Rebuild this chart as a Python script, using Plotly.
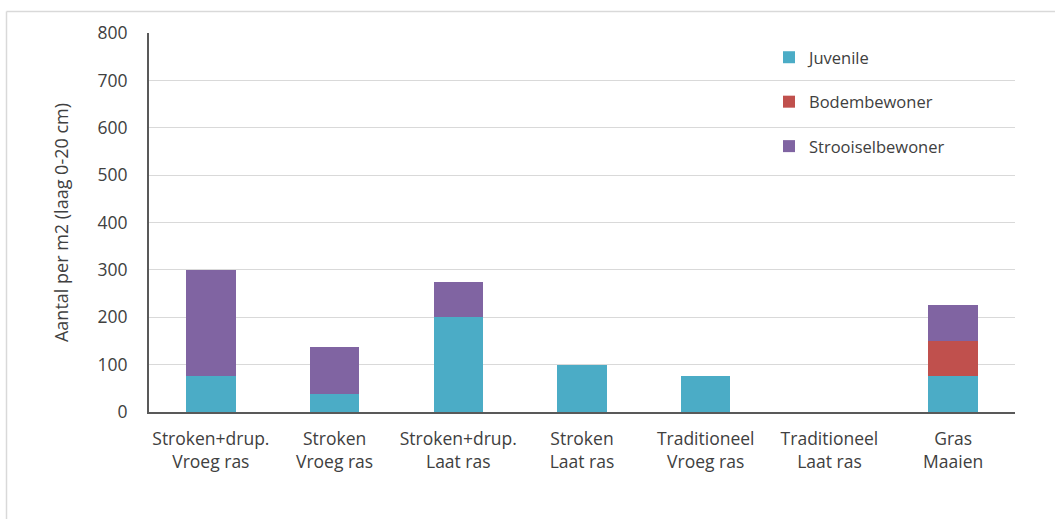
import plotly.graph_objects as go

# Categories (two-line tick labels) and the stacked counts per group
categories = [
    "Stroken+drup.<br>Vroeg ras",
    "Stroken<br>Vroeg ras",
    "Stroken+drup.<br>Laat ras",
    "Stroken<br>Laat ras",
    "Traditioneel<br>Vroeg ras",
    "Traditioneel<br>Laat ras",
    "Gras<br>Maaien",
]
juvenile = [75, 37.5, 200, 100, 75, 0, 75]
bodembewoner = [0, 0, 0, 0, 0, 0, 75]
strooiselbewoner = [225, 100, 75, 0, 0, 0, 75]

y_ticks = [0, 100, 200, 300, 400, 500, 600, 700, 800]

series = [
    ("Juvenile", juvenile, "#4BACC6"),
    ("Bodembewoner", bodembewoner, "#C0504D"),
    ("Strooiselbewoner", strooiselbewoner, "#8064A2"),
]

FONT = "Open Sans"
TXT = "#404040"
W, H = 1055, 519
L, R, T, B = 149, 40, 33, 107

fig = go.Figure()
for name, vals, color in series:
    fig.add_trace(go.Bar(
        x=categories, y=vals, name=name, legendgroup=name,
        marker=dict(color=color, line=dict(width=0)),
    ))

pw = W - L - R
ph = H - T - B

def px_x(px):
    return (px - L) / pw

def px_y(py):
    return (H - B - py) / ph

fig.update_layout(
    width=W, height=H,
    barmode="stack", bargap=0.6,
    margin=dict(l=L, r=R, t=T, b=B),
    paper_bgcolor="white", plot_bgcolor="white",
    font=dict(family=FONT, size=16, color=TXT),
    showlegend=True,
    legend=dict(
        x=px_x(769), y=px_y(40), xanchor="left", yanchor="top",
        traceorder="grouped", tracegroupgap=20,
        font=dict(family=FONT, size=16.5, color=TXT),
        itemwidth=30, bgcolor="rgba(0,0,0,0)",
    ),
    xaxis=dict(
        showline=True, linecolor="#595959", linewidth=2,
        ticks="", ticklabelstandoff=10,
        tickfont=dict(family=FONT, size=17.5, color=TXT),
        showgrid=False,
    ),
    yaxis=dict(
        range=[0, 800], tickvals=y_ticks,
        showgrid=True, gridcolor="#d9d9d9", gridwidth=1,
        showline=True, linecolor="#595959", linewidth=2,
        ticks="", ticklen=0, ticklabelstandoff=16,
        tickfont=dict(family=FONT, size=17.5, color=TXT),
        title=dict(text="Aantal per m2 (laag 0-20 cm)",
                   font=dict(family=FONT, size=18, color=TXT),
                   standoff=24),
        zeroline=False,
    ),
    shapes=[
        dict(type="line", xref="paper", yref="paper",
             x0=px_x(6.5), x1=px_x(1055), y0=px_y(11.5), y1=px_y(11.5),
             line=dict(color="#d9d9d9", width=1.5)),
        dict(type="line", xref="paper", yref="paper",
             x0=px_x(6.5), x1=px_x(6.5), y0=px_y(11.5), y1=px_y(519),
             line=dict(color="#d9d9d9", width=1.5)),
    ],
)

fig.write_html("out.html")
